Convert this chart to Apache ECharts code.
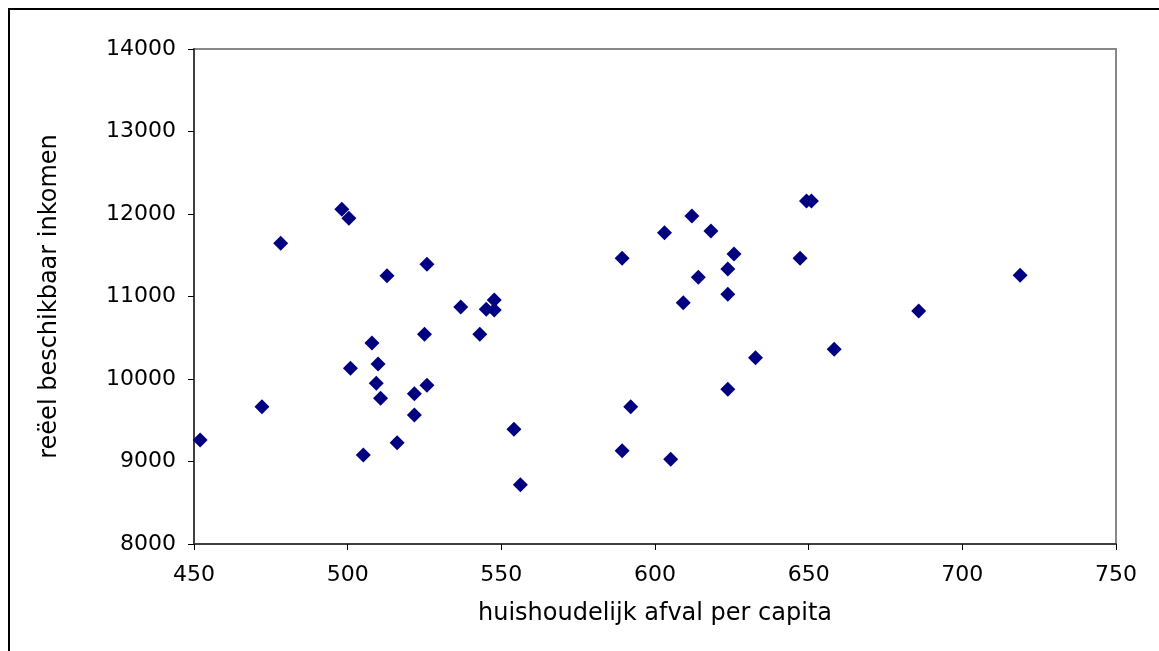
<!DOCTYPE html>
<html>
<head>
<meta charset="utf-8">
<script src="https://cdn.jsdelivr.net/npm/echarts@6/dist/echarts.min.js"></script>
<style>
	html, body { margin: 0; padding: 0; background: #fff; }
	#container { width: 1159px; height: 651px; }
</style>
</head>
<body>
<div id="container"></div>
<script>
	// huishoudelijk afval per capita (x)
	var afval = [452.0, 472.1, 478.2, 498.1, 500.4, 500.9, 505.1, 507.9, 509.3, 509.9,
		510.7, 512.8, 516.1, 521.7, 521.7, 525.0, 525.8, 525.8, 536.8, 543.0,
		545.1, 547.7, 547.7, 554.1, 556.2, 589.3, 589.3, 592.1, 603.1, 605.1,
		609.2, 612.0, 614.1, 618.2, 623.7, 623.7, 623.7, 625.7, 632.7, 647.2,
		649.3, 650.9, 658.3, 685.8, 718.8];
	// reëel beschikbaar inkomen (y)
	var inkomen = [9261, 9664, 11645, 12057, 11948, 10130, 9079, 10436, 9948, 10182,
		9766, 11252, 9228, 9822, 9564, 10542, 11390, 9924, 10873, 10542,
		10845, 10958, 10836, 9390, 8719, 11463, 9131, 9664, 11773, 9027,
		10925, 11976, 11233, 11794, 11333, 11027, 9875, 11515, 10258, 11463,
		12158, 12158, 10360, 10824, 11257];

	var xTitle = 'huishoudelijk afval per capita';
	var yTitle = 'reëel beschikbaar inkomen';

	var points = [];
	for (var i = 0; i < afval.length; i++) {
		points.push([afval[i], inkomen[i]]);
	}

	var font = '"DejaVu Sans", Verdana, sans-serif';
	// plain numbers, no thousands separator
	var plain = function(v) { return String(v); };

	var myChart = echarts.init(document.getElementById('container'));
	var option = {
		animation: false,
		backgroundColor: '#fff',
		graphic: [{
			type: 'rect',
			shape: { x: 9, y: 9, width: 1300, height: 800 },
			style: { fill: 'none', stroke: '#000', lineWidth: 2 }
		}],
		grid: {
			left: 194,
			right: 43,
			top: 49,
			bottom: 107,
			show: true,
			borderColor: '#888',
			borderWidth: 2
		},
		xAxis: {
			type: 'value',
			min: 450,
			max: 750,
			interval: 50,
			name: xTitle,
			nameLocation: 'middle',
			nameGap: 58,
			nameTextStyle: { fontFamily: font, fontSize: 24, color: '#000' },
			axisLine: { onZero: false, lineStyle: { color: '#404040', width: 2 } },
			axisTick: { show: true, length: 6, lineStyle: { color: '#000' } },
			axisLabel: { margin: 20, fontFamily: font, fontSize: 22, color: '#000', formatter: plain },
			splitLine: { show: false }
		},
		yAxis: {
			type: 'value',
			min: 8000,
			max: 14000,
			interval: 1000,
			name: yTitle,
			nameLocation: 'middle',
			nameGap: 132,
			nameTextStyle: { fontFamily: font, fontSize: 24, color: '#000' },
			axisLine: { onZero: false, lineStyle: { color: '#404040', width: 2 } },
			axisTick: { show: true, length: 6, lineStyle: { color: '#000' } },
			axisLabel: { margin: 18, fontFamily: font, fontSize: 22, color: '#000', formatter: plain },
			splitLine: { show: false }
		},
		series: [{
			type: 'scatter',
			symbol: 'diamond',
			symbolSize: 15,
			itemStyle: { color: '#000080', opacity: 1 },
			data: points
		}]
	};
	myChart.setOption(option);
</script>
</body>
</html>
